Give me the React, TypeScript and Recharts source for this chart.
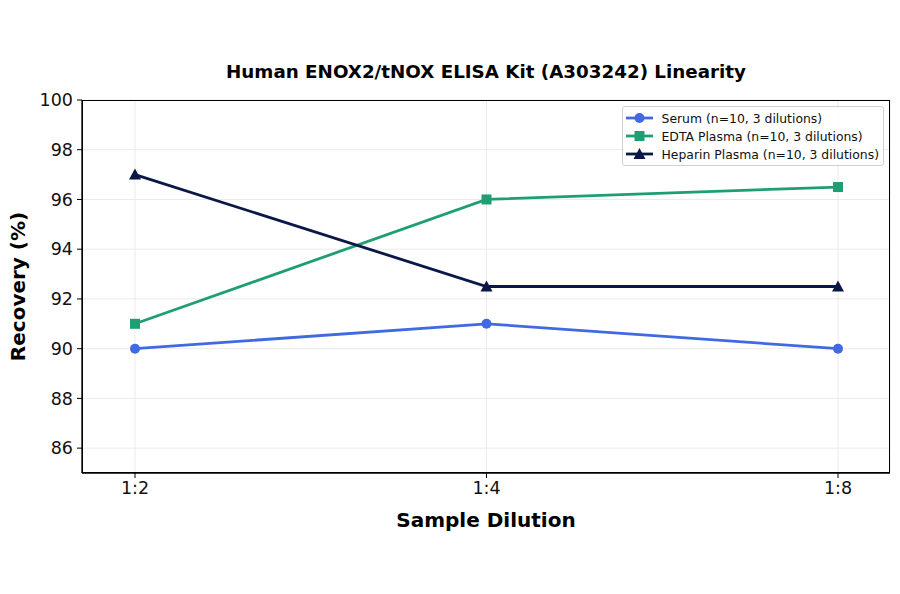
import type { JSX } from "react";

import { CartesianGrid, Line, LineChart, XAxis, YAxis } from "recharts";

const dilutions = ["1:2", "1:4", "1:8"];
const serum = [90, 91, 90];
const edtaPlasma = [91, 96, 96.5];
const heparinPlasma = [97, 92.5, 92.5];
const yTicks = [86, 88, 90, 92, 94, 96, 98, 100];

const series = [
	{ key: "serum", name: "Serum (n=10, 3 dilutions)", color: "#4169e1", shape: "circle" },
	{ key: "edta", name: "EDTA Plasma (n=10, 3 dilutions)", color: "#1f9e74", shape: "square" },
	{ key: "heparin", name: "Heparin Plasma (n=10, 3 dilutions)", color: "#0b1747", shape: "triangle" },
];

const data = dilutions.map((d, i) => ({
	dilution: d,
	serum: serum[i],
	edta: edtaPlasma[i],
	heparin: heparinPlasma[i],
}));

const FONT = "'DejaVu Sans', sans-serif";

function marker(shape: string, color: string, cx: number, cy: number, key?: string): JSX.Element {
	if (shape === "square") {
		return <rect key={key} x={cx - 5} y={cy - 5} width={10} height={10} fill={color} />;
	}
	if (shape === "triangle") {
		return <polygon key={key} points={`${cx},${cy - 6} ${cx + 6},${cy + 5} ${cx - 6},${cy + 5}`} fill={color} />;
	}
	return <circle key={key} cx={cx} cy={cy} r={5} fill={color} />;
}

function makeDot(shape: string, color: string) {
	return (props: { cx?: number; cy?: number; index?: number }) =>
		marker(shape, color, props.cx ?? 0, props.cy ?? 0, `${shape}-${props.index}`);
}

function LegendBox(): JSX.Element {
	return (
		<div
			style={{
				position: "absolute",
				right: 16,
				top: 106,
				border: "1px solid #d0d0d0",
				borderRadius: 3,
				background: "rgba(255,255,255,0.85)",
				padding: "2px 4px 2px 3px",
				fontFamily: FONT,
				fontSize: 12.4,
				color: "#111",
			}}
		>
			{series.map((s) => (
				<div key={s.key} style={{ display: "flex", alignItems: "center", height: 18 }}>
					<svg width={27} height={12} style={{ marginRight: 9 }}>
						<line x1={0} y1={6} x2={27} y2={6} stroke={s.color} strokeWidth={2.8} />
						{marker(s.shape, s.color, 13.5, 6)}
					</svg>
					<span>{s.name}</span>
				</div>
			))}
		</div>
	);
}

export default function App(): JSX.Element {
	return (
		<div style={{ position: "absolute", left: 0, top: 0, width: 900, height: 594, background: "#fff" }}>
			<div
				style={{
					position: "absolute",
					left: 82,
					width: 808,
					top: 61,
					textAlign: "center",
					fontFamily: FONT,
					fontWeight: "bold",
					fontSize: 18.3,
					color: "#000",
				}}
			>
				Human ENOX2/tNOX ELISA Kit (A303242) Linearity
			</div>
			<LineChart width={900} height={594} data={data} margin={{ top: 100, right: 10, bottom: 91, left: 22 }}>
				<CartesianGrid stroke="#ebebeb" strokeWidth={1} />
				<XAxis
					dataKey="dilution"
					padding={{ left: 53, right: 52 }}
					height={30}
					tickSize={5}
					tickMargin={4}
					axisLine={{ stroke: "#000", strokeWidth: 1.3 }}
					tickLine={{ stroke: "#000" }}
					tick={{ fill: "#111", fontSize: 17.5, fontFamily: FONT }}
					label={{
						value: "Sample Dilution",
						position: "bottom",
						offset: 10,
						style: { fontFamily: FONT, fontSize: 20, fontWeight: "bold", fill: "#000" },
					}}
				/>
				<YAxis
					domain={[85, 100]}
					ticks={yTicks}
					width={60}
					tickSize={5}
					tickMargin={4}
					interval={0}
					axisLine={{ stroke: "#000", strokeWidth: 1.3 }}
					tickLine={{ stroke: "#000" }}
					tick={{ fill: "#111", fontSize: 17.5, fontFamily: FONT }}
					label={{
						value: "Recovery (%)",
						angle: -90,
						position: "insideLeft",
						offset: -4,
						style: { fontFamily: FONT, fontSize: 20, fontWeight: "bold", fill: "#000", textAnchor: "middle" },
					}}
				/>
				{series.map((s) => (
					<Line
						key={s.key}
						dataKey={s.key}
						name={s.name}
						stroke={s.color}
						strokeWidth={2.8}
						type="linear"
						dot={makeDot(s.shape, s.color)}
						activeDot={false}
						isAnimationActive={false}
					/>
				))}
			</LineChart>
			<div
				style={{
					position: "absolute",
					left: 82,
					top: 100,
					width: 808,
					height: 373,
					border: "1.3px solid #000",
					boxSizing: "border-box",
					pointerEvents: "none",
				}}
			/>
			<LegendBox />
		</div>
	);
}
